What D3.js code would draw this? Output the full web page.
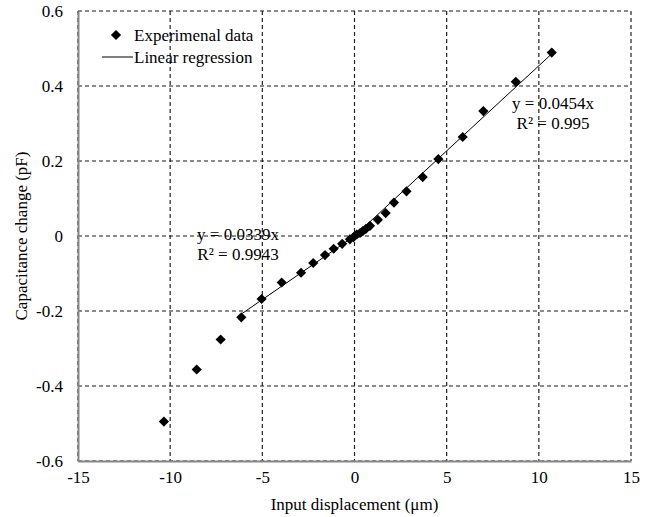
<!DOCTYPE html>
<html>
<head>
<meta charset="utf-8">
<script src="https://cdn.jsdelivr.net/npm/d3@7"></script>
<style>
  body { margin: 0; background: #fff; }
  svg text { font-family: 'Liberation Serif', 'Times New Roman', Times, 'DejaVu Serif', serif !important; fill: #000; }
</style>
</head>
<body>
<svg width="652" height="517"></svg>
<script>
// data
const displacement = [-10.34, -8.56, -7.26, -6.14, -5.04, -3.95, -2.90, -2.24, -1.60, -1.13,
  -0.67, -0.25, -0.05, 0.12, 0.30, 0.45, 0.62, 0.84, 1.27, 1.69, 2.14, 2.82, 3.70, 4.55,
  5.87, 6.99, 8.75, 10.70];
const capacitance = [-0.495, -0.356, -0.276, -0.217, -0.168, -0.124, -0.098, -0.072, -0.051, -0.034,
  -0.021, -0.009, -0.003, 0.004, 0.008, 0.013, 0.019, 0.027, 0.043, 0.061, 0.089, 0.119, 0.157, 0.205,
  0.264, 0.333, 0.411, 0.489];

// regression fits: slope and x range
const fitSlopes = [0.0339, 0.0454];
const fitRanges = [[-6.14, 0], [0, 10.70]];
const fitLabels = [["y = 0.0339x", "R² = 0.9943"], ["y = 0.0454x", "R² = 0.995"]];

const xTicks = [-15, -10, -5, 0, 5, 10, 15];
const yTicks = [-0.6, -0.4, -0.2, 0, 0.2, 0.4, 0.6];

const svg = d3.select('svg');
const pLeft = 78, pRight = 631, pTop = 11, pBottom = 461;
const fs = '17px';

const x = d3.scaleLinear().domain([-15, 15]).range([pLeft, pRight]);
const y = d3.scaleLinear().domain([-0.6, 0.6]).range([pBottom, pTop]);

// grid
svg.append('g').selectAll('line').data(yTicks).join('line')
  .attr('x1', pLeft).attr('x2', pRight)
  .attr('y1', (d) => y(d)).attr('y2', (d) => y(d))
  .attr('stroke', '#666').attr('stroke-width', 1.3)
  .attr('stroke-dasharray', '4,3');

svg.append('g').selectAll('line').data(xTicks).join('line')
  .attr('y1', pTop).attr('y2', pBottom)
  .attr('x1', (d) => x(d)).attr('x2', (d) => x(d))
  .attr('stroke', '#222').attr('stroke-width', 1.2)
  .attr('stroke-dasharray', '4,3');

// axes (plain hyphen for negatives, like the original)
const fmtX = (d) => String(d);
const fmtY = (d) => d === 0 ? '0' : d.toFixed(1);
const xAxis = svg.append('g').attr('transform', `translate(0,${pBottom})`)
  .call(d3.axisBottom(x).tickValues(xTicks).tickSize(0).tickPadding(10).tickFormat(fmtX));
const yAxis = svg.append('g').attr('transform', `translate(${pLeft},0)`)
  .call(d3.axisLeft(y).tickValues(yTicks).tickSize(0).tickPadding(15).tickFormat(fmtY));

[xAxis, yAxis].forEach((a) => {
  a.attr('font-family', null).attr('font-size', null);
  a.select('.domain').attr('stroke', '#868686').attr('stroke-width', 2);
  a.selectAll('text').style('font-size', fs);
});

// regression lines
const line = d3.line().x((d) => x(d[0])).y((d) => y(d[1]));
fitSlopes.forEach((k, i) => {
  const pts = fitRanges[i].map((v) => [v, k * v]);
  svg.append('path')
    .attr('d', line(pts))
    .attr('stroke', '#000').attr('stroke-width', 1)
    .attr('fill', 'none');
});

// points
const diamond = d3.symbol(d3.symbolSquare, 52);
svg.append('g').selectAll('path').data(displacement).join('path')
  .attr('d', diamond)
  .attr('transform', (d, i) => `translate(${x(d)},${y(capacitance[i])}) rotate(45)`)
  .attr('fill', '#000');

// fit labels
const labelPos = [[238, 240], [553, 109]];
fitLabels.forEach((lines, i) => {
  lines.forEach((t, j) => {
    svg.append('text')
      .attr('x', labelPos[i][0]).attr('y', labelPos[i][1] + j * 20)
      .attr('text-anchor', 'middle')
      .style('font-size', fs)
      .text(t);
  });
});

// legend
svg.append('path').attr('d', diamond)
  .attr('transform', 'translate(116,35) rotate(45)').attr('fill', '#000');
svg.append('text').attr('x', 134).attr('y', 41).style('font-size', fs).text('Experimenal data');
svg.append('line').attr('x1', 102).attr('x2', 133).attr('y1', 57).attr('y2', 57)
  .attr('stroke', '#000').attr('stroke-width', 1);
svg.append('text').attr('x', 134).attr('y', 63).style('font-size', fs).text('Linear regression');

// axis titles
svg.append('text').attr('x', (pLeft + pRight) / 2).attr('y', 510)
  .attr('text-anchor', 'middle').style('font-size', fs)
  .text('Input displacement (μm)');
svg.append('text')
  .attr('transform', `translate(27,${(pTop + pBottom) / 2}) rotate(-90)`)
  .attr('text-anchor', 'middle').style('font-size', fs)
  .text('Capacitance change (pF)');
</script>
</body>
</html>
